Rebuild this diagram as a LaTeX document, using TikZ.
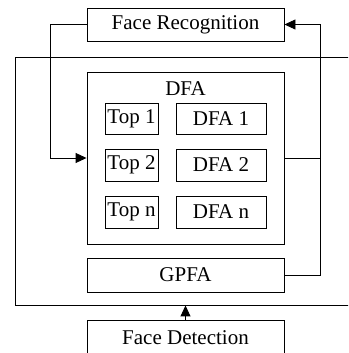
\documentclass[tikz,border=0pt]{standalone}
\usepackage{fontspec}
\setmainfont{Liberation Serif}
\usetikzlibrary{arrows.meta}
\begin{document}
\begin{tikzpicture}[x=1pt, y=1pt, line width=0.9pt,
    blk/.style={draw, rectangle, inner sep=1pt, font=\fontsize{21}{24}\selectfont},
    arr/.style={-{Triangle[length=11pt, width=10pt]}}]
    \useasboundingbox (0,0) rectangle (348,353);
    \clip (0,0) rectangle (348,353);

    % Outer frame and top/bottom stages
    \node[blk, minimum width=197, minimum height=33] (facerec) at (185.5,328.5) {Face Recognition};
    \node[draw, rectangle, minimum width=345, minimum height=248] (frame) at (187.5,172) {};
    \node[blk, minimum width=197, minimum height=36] (facedet) at (185.5,15) {Face Detection};

    % DFA block
    \node[blk, minimum width=197, minimum height=172] (dfa) at (185.5,195) {};
    \node[font=\fontsize{21}{24}\selectfont] (dfalbl) at (185.5,264) {DFA};

    % Top / DFA rows
    \node[blk, minimum width=53, minimum height=31] (top1) at (131.5,234.5) {Top 1};
    \node[blk, minimum width=53, minimum height=32] (top2) at (131.5,188) {Top 2};
    \node[blk, minimum width=53, minimum height=32] (topn) at (131.5,141) {Top n};
    \node[blk, minimum width=90, minimum height=31] (dfa1) at (221,234.5) {DFA 1};
    \node[blk, minimum width=90, minimum height=32] (dfa2) at (221,188) {DFA 2};
    \node[blk, minimum width=90, minimum height=32] (dfan) at (221,141) {DFA n};

    % GPFA block
    \node[blk, minimum width=197, minimum height=34] (gpfa) at (185.5,78) {GPFA};

    % Connectors
    \draw[arr] (facedet.north) -- (facedet.north |- frame.south);
    \draw[arr] (facerec.west) -- ++(-36,0) |- (dfa.west);
    \draw (dfa.east) -- ++(36,0);
    \draw[arr] (gpfa.east) -- ++(36,0) |- (facerec.east);
\end{tikzpicture}
\end{document}
